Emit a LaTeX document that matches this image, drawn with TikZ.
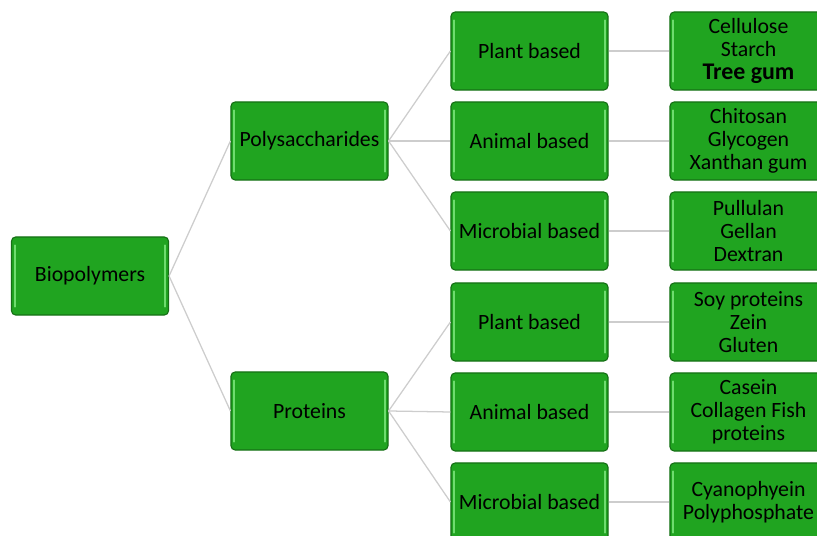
\documentclass[tikz,border=0pt]{standalone}
\usepackage{fontspec}
\setmainfont{Carlito}
\usepackage{tikz}
\usepackage{color}

\definecolor{boxfill}{RGB}{32,164,32}
\definecolor{boxedge}{RGB}{22,112,22}
\definecolor{boxlight}{RGB}{110,220,110}
\definecolor{linkgray}{RGB}{205,205,205}

\tikzset{
  gbox/.style={draw=boxedge, line width=0.8pt, fill=boxfill, rounded corners=3pt,
    minimum width=3.925cm, minimum height=1.95cm, inner sep=1pt, align=center,
    font=\fontsize{15.5}{16.5}\selectfont, text=black,
    path picture={
      \draw[boxlight, line width=1.4pt, line cap=round]
        ([xshift=2.2pt,yshift=-6pt]path picture bounding box.north west) --
        ([xshift=2.2pt,yshift=6pt]path picture bounding box.south west);
      \draw[boxlight, line width=1.4pt, line cap=round]
        ([xshift=-2.2pt,yshift=-6pt]path picture bounding box.north east) --
        ([xshift=-2.2pt,yshift=6pt]path picture bounding box.south east);
    }},
  link/.style={linkgray, line width=0.9pt}
}

\begin{document}
\begin{tikzpicture}[x=0.025cm, y=-0.025cm]
\useasboundingbox (0,0) rectangle (817,536);
\clip (0,0) rectangle (817,536);

\node[gbox] (bio) at (90,276) {Biopolymers};
\node[gbox] (poly) at (309.5,141) {Polysaccharides};
\node[gbox] (prot) at (309.5,411) {Proteins};

\node[gbox] (pplant) at (529.5,51) {Plant based};
\node[gbox] (panimal) at (529.5,141) {Animal based};
\node[gbox] (pmicro) at (529.5,231) {Microbial based};
\node[gbox] (rplant) at (529.5,322) {Plant based};
\node[gbox] (ranimal) at (529.5,412) {Animal based};
\node[gbox] (rmicro) at (529.5,502) {Microbial based};

\node[gbox] (lpplant) at (748.5,51) {Cellulose\\Starch\\{\fontsize{17}{16.5}\selectfont\bfseries Tree gum}};
\node[gbox] (lpanimal) at (748.5,141) {Chitosan\\Glycogen\\Xanthan gum};
\node[gbox] (lpmicro) at (748.5,231) {Pullulan\\Gellan\\Dextran};
\node[gbox] (lrplant) at (748.5,322) {Soy proteins\\Zein\\Gluten};
\node[gbox] (lranimal) at (748.5,412) {Casein\\Collagen Fish\\proteins};
\node[gbox] (lrmicro) at (748.5,502) {Cyanophyein\\Polyphosphate};

% grey links between the boxes
\draw[link] (bio.east) -- (poly.west);
\draw[link] (bio.east) -- (prot.west);
\foreach \c in {pplant,panimal,pmicro}
  \draw[link] (poly.east) -- (\c.west);
\foreach \c in {rplant,ranimal,rmicro}
  \draw[link] (prot.east) -- (\c.west);
\foreach \a/\b in {pplant/lpplant,panimal/lpanimal,pmicro/lpmicro,rplant/lrplant,ranimal/lranimal,rmicro/lrmicro}
  \draw[link] (\a.east) -- (\b.west);
\end{tikzpicture}
\end{document}
